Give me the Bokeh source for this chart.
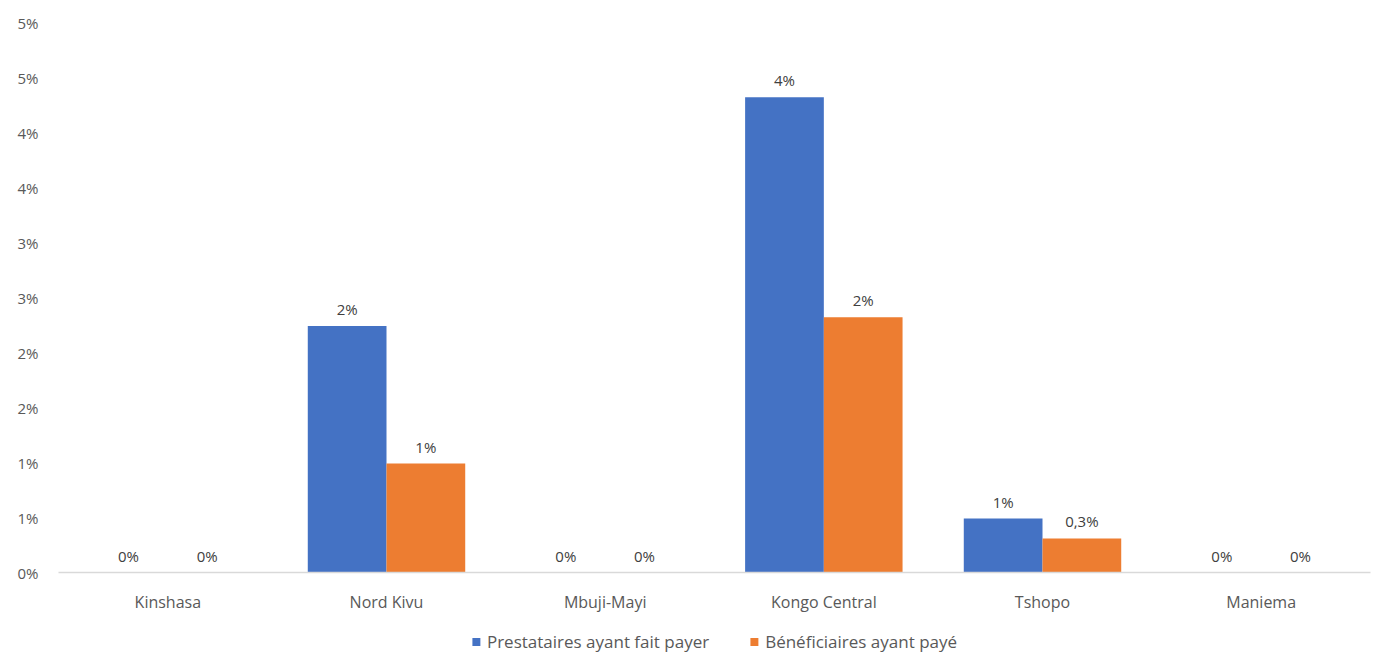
from bokeh.plotting import figure
from bokeh.models import ColumnDataSource, FactorRange, Legend, LegendItem, FixedTicker, Range1d
from bokeh.transform import dodge
from bokeh.layouts import column
from bokeh.core.properties import value
from bokeh.embed import file_html
from bokeh.resources import INLINE

categories = ["Kinshasa", "Nord Kivu", "Mbuji-Mayi", "Kongo Central", "Tshopo", "Maniema"]
prestataires = [0.0, 2.24, 0.0, 4.32, 0.49, 0.0]
beneficiaires = [0.0, 0.99, 0.0, 2.32, 0.31, 0.0]
prestataires_labels = ["0%", "2%", "0%", "4%", "1%", "0%"]
beneficiaires_labels = ["0%", "1%", "0%", "2%", "0,3%", "0%"]
tick_values = [0, 0.5, 1, 1.5, 2, 2.5, 3, 3.5, 4, 4.5, 5]
tick_labels = ["0%", "1%", "1%", "2%", "2%", "3%", "3%", "4%", "4%", "5%", "5%"]
series_names = ["Prestataires ayant fait payer", "Bénéficiaires ayant payé"]

BLUE = "#4472C4"
ORANGE = "#ED7D31"
FONT = "Open Sans"

src = ColumnDataSource(dict(cat=categories, a=prestataires, b=beneficiaires,
                            la=prestataires_labels, lb=beneficiaires_labels))

p = figure(width=1376, height=617, x_range=FactorRange(*categories, range_padding=0),
           y_range=Range1d(0, 5), output_backend="svg", toolbar_location=None,
           min_border_left=58, min_border_right=6, min_border_top=22, min_border_bottom=45)
p.outline_line_color = None
p.xgrid.grid_line_color = None
p.ygrid.grid_line_color = None

p.vbar(x=dodge("cat", -0.18, range=p.x_range), top="a", width=0.36, source=src,
       fill_color=BLUE, line_color=None)
p.vbar(x=dodge("cat", 0.18, range=p.x_range), top="b", width=0.36, source=src,
       fill_color=ORANGE, line_color=None)

for key, lab, dx in (("a", "la", -0.18), ("b", "lb", 0.18)):
    p.text(x=dodge("cat", dx, range=p.x_range), y=key, text=lab, source=src,
           text_align="center", text_baseline="alphabetic", y_offset=-17,
           text_font=value(FONT), text_font_size="15px", text_color="#404040")

p.yaxis.ticker = FixedTicker(ticks=tick_values)
p.yaxis.major_label_overrides = {v: l for v, l in zip(tick_values, tick_labels)}
p.yaxis.axis_line_color = None
p.yaxis.major_tick_line_color = None
p.yaxis.minor_tick_line_color = None
p.yaxis.major_tick_in = 0
p.yaxis.major_tick_out = 0
p.yaxis.major_label_standoff = 20
p.yaxis.major_label_text_font = FONT
p.yaxis.major_label_text_font_size = "15px"
p.yaxis.major_label_text_color = "#595959"

p.xaxis.axis_line_color = "#D9D9D9"
p.xaxis.axis_line_width = 1.5
p.xaxis.major_tick_line_color = None
p.xaxis.minor_tick_line_color = None
p.xaxis.major_tick_in = 0
p.xaxis.major_tick_out = 0
p.xaxis.major_label_standoff = 18
p.xaxis.major_label_text_font = FONT
p.xaxis.major_label_text_font_size = "16px"
p.xaxis.major_label_text_color = "#595959"

# legend strip below the chart (swatch renderers sit outside its visible range)
lg = figure(width=1376, height=36, x_range=Range1d(0, 1), y_range=Range1d(0, 1),
            output_backend="svg", toolbar_location=None,
            x_axis_location=None, y_axis_location=None,
            min_border_left=24, min_border_right=0, min_border_top=12, min_border_bottom=0)
lg.outline_line_color = None
lg.grid.visible = False
swatch = ColumnDataSource(dict(x=[-5.0], top=[-5.0]))
d1 = lg.vbar(x="x", top="top", width=0.1, source=swatch, fill_color=BLUE, line_color=None)
d2 = lg.vbar(x="x", top="top", width=0.1, source=swatch, fill_color=ORANGE, line_color=None)
legend = Legend(items=[LegendItem(label=series_names[0], renderers=[d1]),
                       LegendItem(label=series_names[1], renderers=[d2])],
                orientation="horizontal", location="center",
                label_text_font=FONT, label_text_font_size="17px", label_text_color="#595959",
                glyph_width=10, glyph_height=10, spacing=40, padding=0, margin=0,
                border_line_color=None, background_fill_alpha=0, label_standoff=6)
lg.add_layout(legend, "center")

open("out.html", "w").write(file_html(column(p, lg, spacing=0), INLINE))
